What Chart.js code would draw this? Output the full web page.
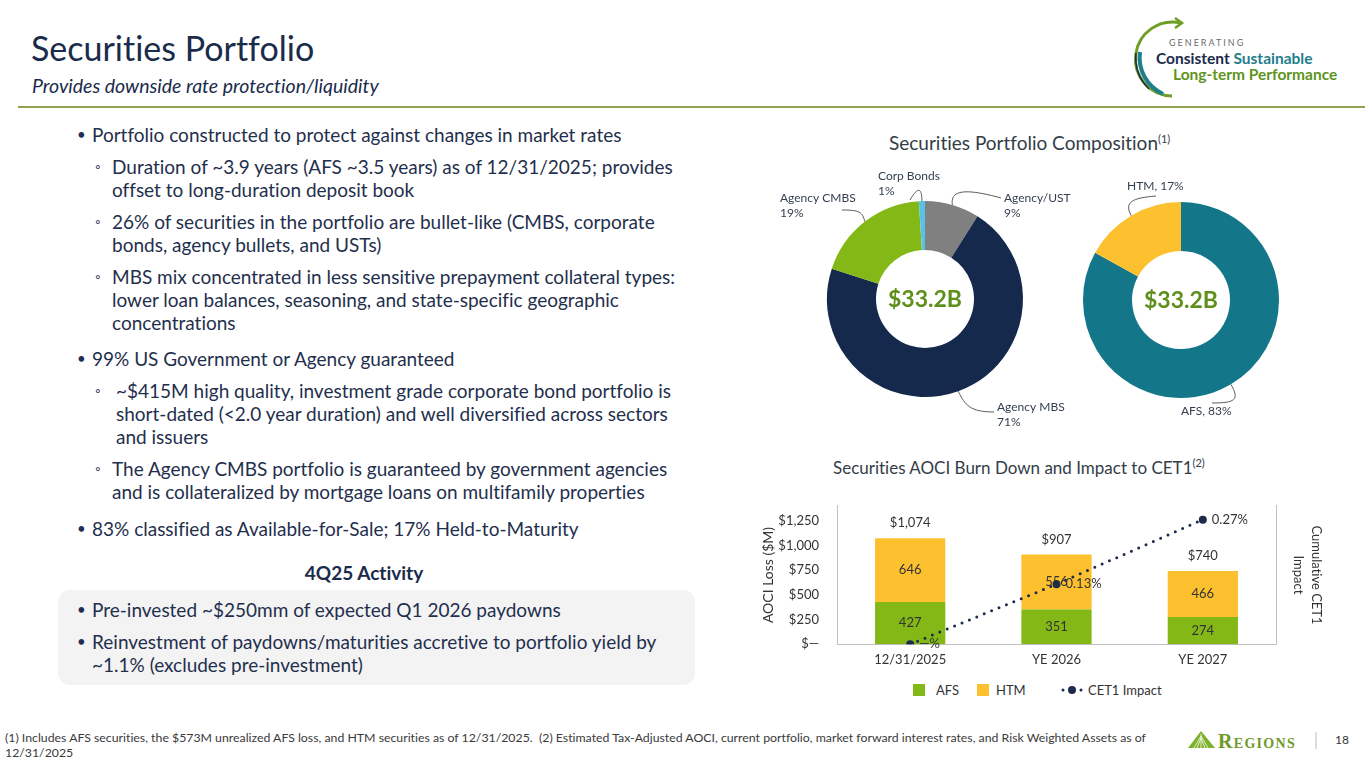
<!DOCTYPE html>
<html>
<head>
<meta charset="utf-8">
<title>Securities Portfolio</title>
<script src="https://cdn.jsdelivr.net/npm/chart.js@4.4.1/dist/chart.umd.min.js"></script>
<style>
  body { margin: 0; width: 1365px; height: 768px; position: relative; overflow: hidden; background: #fff; font-family: Lato, "Open Sans", sans-serif; color: #1F2F4D; font-variant-ligatures: none; }
  .abs { position: absolute; white-space: nowrap; }
  .title { left: 31px; top: 27px; font-size: 34px; color: #1B2B4B; }
  .subtitle { left: 32px; top: 74px; font-size: 19.5px; font-style: italic; color: #1B2B4B; }
  .rule { left: 18px; top: 106px; width: 1347px; height: 2px; background: #8FA34E; }
  .txt { font-size: 19px; line-height: 23px; }
  .dot { font-size: 15px; line-height: 23px; }
  .ring { font-size: 14px; line-height: 23px; }
  .box { left: 58px; top: 590px; width: 637px; height: 95px; background: #F3F3F3; border-radius: 12px; }
  .ctitle { font-size: 19px; color: #333D47; }
  .ctitle sup, .ctitle2 sup { font-size: 11px; vertical-align: 7px; line-height: 0; }
  .ctitle2 { font-size: 17px; color: #333D47; }
  .foot { left: 5px; top: 730px; font-size: 12.3px; line-height: 15px; color: #3A3A3A; }
  .leg { font-size: 13px; color: #333; top: 682px; line-height: 16px; }
  .sq { position: absolute; width: 12px; height: 12px; top: 684px; }
</style>
</head>
<body>

<div class="abs title">Securities Portfolio</div>
<div class="abs subtitle">Provides downside rate protection/liquidity</div>
<div class="abs rule"></div>

<!-- logo arriba a la derecha -->
<svg class="abs" style="left:1125px;top:12px" width="240" height="92" viewBox="0 0 240 92">
  <path d="M 56 11 A 37 37 0 1 0 47 84" fill="none" stroke="#6F9E24" stroke-width="3"/>
  <path d="M 50 6 L 57 11 L 50 16" fill="none" stroke="#6F9E24" stroke-width="2.5"/>
  <path d="M 15 40 A 40 40 0 0 0 38 82" fill="none" stroke="#1E7E8C" stroke-width="4"/>
  <path d="M 11 41 A 44 44 0 0 0 24 77" fill="none" stroke="#1B2B4B" stroke-width="1.5"/>
  <text x="44" y="34" font-family="Lato" font-size="9" letter-spacing="2" fill="#6B6B6B">GENERATING</text>
  <text x="31" y="52" font-family="Lato" font-size="15.5" font-weight="bold" fill="#1B2B4B">Consistent <tspan fill="#1E7E8C">Sustainable</tspan></text>
  <text x="48" y="68" font-family="Lato" font-size="15.5" font-weight="bold" fill="#5E9420">Long-term Performance</text>
</svg>

<!-- texto izquierdo -->
<div class="abs dot" style="left:77px;top:123px">•</div>
<div class="abs txt" style="left:92px;top:123px">Portfolio constructed to protect against changes in market rates</div>

<div class="abs ring" style="left:95px;top:155px">◦</div>
<div class="abs txt" style="left:112px;top:155px">Duration of ~3.9 years (AFS ~3.5 years) as of 12/31/2025; provides<br>offset to long-duration deposit book</div>

<div class="abs ring" style="left:95px;top:210px">◦</div>
<div class="abs txt" style="left:112px;top:210px">26% of securities in the portfolio are bullet-like (CMBS, corporate<br>bonds, agency bullets, and USTs)</div>

<div class="abs ring" style="left:95px;top:265px">◦</div>
<div class="abs txt" style="left:112px;top:265px">MBS mix concentrated in less sensitive prepayment collateral types:<br>lower loan balances, seasoning, and state-specific geographic<br>concentrations</div>

<div class="abs dot" style="left:77px;top:347px">•</div>
<div class="abs txt" style="left:92px;top:347px">99% US Government or Agency guaranteed</div>

<div class="abs ring" style="left:95px;top:379px">◦</div>
<div class="abs txt" style="left:116px;top:379px">~$415M high quality, investment grade corporate bond portfolio is<br>short-dated (&lt;2.0 year duration) and well diversified across sectors<br>and issuers</div>

<div class="abs ring" style="left:95px;top:457px">◦</div>
<div class="abs txt" style="left:112px;top:457px">The Agency CMBS portfolio is guaranteed by government agencies<br>and is collateralized by mortgage loans on multifamily properties</div>

<div class="abs dot" style="left:77px;top:517px">•</div>
<div class="abs txt" style="left:92px;top:517px">83% classified as Available-for-Sale; 17% Held-to-Maturity</div>

<div class="abs txt" style="left:0;width:728px;text-align:center;top:561px;font-weight:bold;color:#1B2B4B">4Q25 Activity</div>
<div class="abs box"></div>
<div class="abs dot" style="left:77px;top:598px">•</div>
<div class="abs txt" style="left:92px;top:598px">Pre-invested ~$250mm of expected Q1 2026 paydowns</div>
<div class="abs dot" style="left:77px;top:630px">•</div>
<div class="abs txt" style="left:92px;top:630px">Reinvestment of paydowns/maturities accretive to portfolio yield by<br>~1.1% (excludes pre-investment)</div>

<!-- titulos de graficos -->
<div class="abs ctitle" style="left:889px;top:131px">Securities Portfolio Composition<sup>(1)</sup></div>
<div class="abs ctitle2" style="left:833px;top:457px">Securities AOCI Burn Down and Impact to CET1<sup>(2)</sup></div>

<!-- graficos -->
<div class="abs" style="left:770px;top:160px;width:310px;height:280px"><canvas id="donutMix"></canvas></div>
<div class="abs" style="left:1080px;top:160px;width:280px;height:280px"><canvas id="donutClass"></canvas></div>
<div class="abs" style="left:760px;top:480px;width:570px;height:190px"><canvas id="aociChart"></canvas></div>

<!-- leyenda del grafico AOCI -->
<div class="sq" style="left:913px;background:#84B817"></div>
<div class="abs leg" style="left:936px">AFS</div>
<div class="sq" style="left:977px;background:#FDC02F"></div>
<div class="abs leg" style="left:996px">HTM</div>
<svg class="abs" style="left:1060px;top:684px" width="24" height="12">
  <circle cx="3" cy="6" r="1.5" fill="#1B2B4B"/><circle cx="12" cy="6" r="4" fill="#1B2B4B"/><circle cx="21" cy="6" r="1.5" fill="#1B2B4B"/>
</svg>
<div class="abs leg" style="left:1088px">CET1 Impact</div>

<!-- nota al pie -->
<div class="abs foot">(1) Includes AFS securities, the $573M unrealized AFS loss, and HTM securities as of 12/31/2025.&nbsp; (2) Estimated Tax-Adjusted AOCI, current portfolio, market forward interest rates, and Risk Weighted Assets as of<br>12/31/2025</div>

<!-- logo Regions -->
<svg class="abs" style="left:1185px;top:728px" width="180" height="24" viewBox="0 0 180 24">
  <path d="M 3 20 L 16 3 L 30 20 Z" fill="#7DB02B"/>
  <path d="M 16 6 L 16 20 M 16 8 L 9 20 M 16 8 L 23 20 M 16 10 L 12 20 M 16 10 L 20 20" stroke="#fff" stroke-width="0.8"/>
  <text x="33" y="20" font-family="Liberation Serif, DejaVu Serif, serif" font-size="20" font-weight="bold" fill="#6E9A2A" style="font-variant:small-caps" letter-spacing="1.3">Regions</text>
  <line x1="131" y1="4" x2="131" y2="21" stroke="#BBBBBB" stroke-width="1"/>
  <text x="150" y="16" font-family="Lato" font-size="12" fill="#333">18</text>
</svg>

<script>
// Composicion del portafolio (%)
const mixLabels = ['Agency/UST', 'Agency MBS', 'Agency CMBS', 'Corp Bonds'];
const mixValues = [9, 71, 19, 1];
const mixColors = ['#808080', '#15294C', '#84B817', '#5BC2E7'];

// Clasificacion AFS / HTM (%)
const classLabels = ['AFS', 'HTM'];
const classValues = [83, 17];
const classColors = ['#137789', '#FDC02F'];

const centerText = '$33.2B';

// AOCI burn down ($M) e impacto CET1 (%)
const periods = ['12/31/2025', 'YE 2026', 'YE 2027'];
const afsLoss = [427, 351, 274];
const htmLoss = [646, 556, 466];
const totalLoss = [1074, 907, 740];
const cet1Impact = [0, 0.13, 0.27];
const cet1Labels = ['—%', '0.13%', '0.27%'];
const yTicks = [0, 250, 500, 750, 1000, 1250];

Chart.defaults.font.family = 'Lato, "Open Sans", sans-serif';
Chart.defaults.color = '#333';
Chart.defaults.animation = false;

// Texto central y etiquetas con lineas guia para las donas
const donutLabels = {
    id: 'donutLabels',
    afterDraw(chart, args, opts) {
        const ctx = chart.ctx;
        const arcs = chart.getDatasetMeta(0).data;
        const c = arcs[0];
        ctx.save();
        ctx.font = 'bold 23px Lato, sans-serif';
        ctx.fillStyle = '#5E8F1B';
        ctx.textAlign = 'center';
        ctx.textBaseline = 'middle';
        ctx.fillText(centerText, c.x, c.y + 1);

        ctx.font = '12px Lato, sans-serif';
        ctx.textAlign = 'left';
        opts.items.forEach((it, i) => {
            const a = arcs[i];
            const mid = (a.startAngle + a.endAngle) / 2;
            const sx = a.x + Math.cos(mid) * a.outerRadius;
            const sy = a.y + Math.sin(mid) * a.outerRadius;
            ctx.strokeStyle = '#5A5A5A';
            ctx.lineWidth = 1;
            ctx.beginPath();
            ctx.moveTo(sx, sy);
            ctx.bezierCurveTo(it.c1[0], it.c1[1], it.c2[0], it.c2[1], it.end[0], it.end[1]);
            ctx.stroke();
            ctx.fillStyle = '#333F50';
            it.text.forEach((t, k) => ctx.fillText(t, it.pos[0], it.pos[1] + k * 15));
        });
        ctx.restore();
    }
};

new Chart(document.getElementById('donutMix'), {
    type: 'doughnut',
    data: {
        labels: mixLabels,
        datasets: [{ data: mixValues, backgroundColor: mixColors, borderWidth: 0 }]
    },
    options: {
        maintainAspectRatio: false,
        cutout: '50%',
        layout: { padding: { left: 57, right: 57, top: 41, bottom: 43 } },
        plugins: {
            legend: { display: false },
            tooltip: { enabled: false },
            donutLabels: {
                items: [
                    { text: ['Agency/UST', mixValues[0] + '%'], pos: [234, 38], c1: [180, 30], c2: [195, 28], end: [231, 38] },
                    { text: ['Agency MBS', mixValues[1] + '%'], pos: [227, 247], c1: [195, 245], c2: [200, 252], end: [224, 252] },
                    { text: ['Agency CMBS', mixValues[2] + '%'], pos: [10, 38], c1: [92, 52], c2: [90, 50], end: [72, 50] },
                    { text: ['Corp Bonds', mixValues[3] + '%'], pos: [108, 16], c1: [152, 28], c2: [148, 26], end: [140, 40] }
                ]
            }
        }
    },
    plugins: [donutLabels]
});

new Chart(document.getElementById('donutClass'), {
    type: 'doughnut',
    data: {
        labels: classLabels,
        datasets: [{ data: classValues, backgroundColor: classColors, borderWidth: 0 }]
    },
    options: {
        maintainAspectRatio: false,
        cutout: '50%',
        layout: { padding: { left: 3, right: 81, top: 42, bottom: 42 } },
        plugins: {
            legend: { display: false },
            tooltip: { enabled: false },
            donutLabels: {
                items: [
                    { text: [classLabels[0] + ', ' + classValues[0] + '%'], pos: [101, 251], c1: [160, 240], c2: [155, 243], end: [132, 243] },
                    { text: [classLabels[1] + ', ' + classValues[1] + '%'], pos: [47, 26], c1: [44, 42], c2: [52, 38], end: [76, 36] }
                ]
            }
        }
    },
    plugins: [donutLabels]
});

// Etiquetas de barras, totales y puntos CET1
const aociLabels = {
    id: 'aociLabels',
    afterDatasetsDraw(chart) {
        const ctx = chart.ctx;
        const afsMeta = chart.getDatasetMeta(0);
        const htmMeta = chart.getDatasetMeta(1);
        const lineMeta = chart.getDatasetMeta(2);
        ctx.save();
        ctx.font = '13px Lato, sans-serif';
        ctx.fillStyle = '#333';
        ctx.textAlign = 'center';
        ctx.textBaseline = 'middle';
        afsMeta.data.forEach((b, i) => {
            ctx.fillText(afsLoss[i], b.x, (b.y + b.base) / 2);
            const h = htmMeta.data[i];
            ctx.fillText(htmLoss[i], h.x, (h.y + h.base) / 2);
            ctx.fillText('$' + totalLoss[i].toLocaleString('en-US'), h.x, h.y - 15);
        });
        ctx.textAlign = 'left';
        lineMeta.data.forEach((p, i) => {
            ctx.fillText(cet1Labels[i], p.x + 9, p.y);
        });
        ctx.restore();
    }
};

new Chart(document.getElementById('aociChart'), {
    data: {
        labels: periods,
        datasets: [
            { type: 'bar', label: 'AFS', data: afsLoss, backgroundColor: '#84B817', yAxisID: 'y', order: 1 },
            { type: 'bar', label: 'HTM', data: htmLoss, backgroundColor: '#FDC02F', yAxisID: 'y', order: 1 },
            {
                type: 'line', label: 'CET1 Impact', data: cet1Impact, yAxisID: 'y1', order: 0,
                borderColor: '#1B2B4B', borderWidth: 3, borderDash: [0, 8], borderCapStyle: 'round',
                pointRadius: 4, pointBackgroundColor: '#1B2B4B', pointBorderWidth: 0, fill: false
            }
        ]
    },
    options: {
        maintainAspectRatio: false,
        layout: { padding: { top: 8, left: 0, right: 0, bottom: 0 } },
        datasets: { bar: { categoryPercentage: 1, barPercentage: 0.48 } },
        plugins: { legend: { display: false }, tooltip: { enabled: false } },
        scales: {
            x: {
                stacked: true,
                grid: { display: false, drawTicks: false },
                border: { color: '#BFBFBF' },
                ticks: { font: { size: 13 }, color: '#333', padding: 8 },
                afterFit: s => { s.height = 25; }
            },
            y: {
                stacked: true,
                min: 0, max: 1400,
                grid: { display: false, drawTicks: false },
                border: { color: '#BFBFBF' },
                ticks: {
                    padding: 18, font: { size: 13 }, color: '#333',
                    callback: v => v === 0 ? '$—' : '$' + v.toLocaleString('en-US')
                },
                afterBuildTicks: s => { s.ticks = yTicks.map(v => ({ value: v })); },
                title: { display: true, text: 'AOCI Loss ($M)', font: { size: 14 }, color: '#333', padding: { top: 0, bottom: 0 } },
                afterFit: s => { s.width = 77; }
            },
            y1: {
                position: 'right',
                min: 0, max: 0.3,
                grid: { display: false, drawTicks: false },
                border: { color: '#BFBFBF' },
                ticks: { display: false },
                title: { display: true, text: ['Cumulative CET1', 'Impact'], font: { size: 13, lineHeight: 1.35 }, color: '#333', padding: { top: 5, bottom: 0 } },
                afterFit: s => { s.width = 54; }
            }
        }
    },
    plugins: [aociLabels]
});
</script>
</body>
</html>
